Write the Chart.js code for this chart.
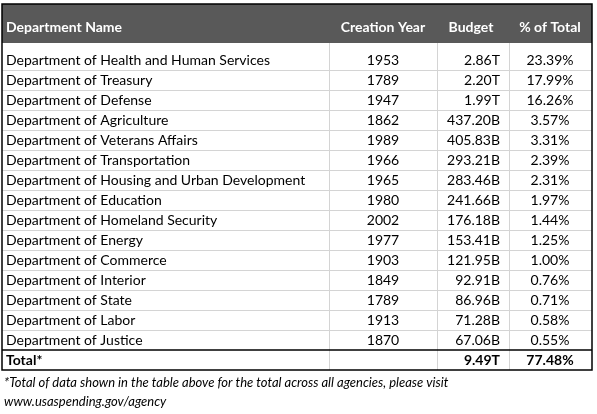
<!DOCTYPE html>
<html>
<head>
<meta charset="utf-8">
<script src="https://cdn.jsdelivr.net/npm/chart.js@4"></script>
<style>
  html, body { margin: 0; padding: 0; background: #fff; }
  #wrap { width: 597px; height: 414px; }
</style>
</head>
<body>
<div id="wrap"><canvas id="tbl"></canvas></div>
<script>
const headers = ['Department Name', 'Creation Year', 'Budget', '% of Total'];
const departments = [
    'Department of Health and Human Services', 'Department of Treasury', 'Department of Defense',
    'Department of Agriculture', 'Department of Veterans Affairs', 'Department of Transportation',
    'Department of Housing and Urban Development', 'Department of Education', 'Department of Homeland Security',
    'Department of Energy', 'Department of Commerce', 'Department of Interior',
    'Department of State', 'Department of Labor', 'Department of Justice'
];
const years = [1953, 1789, 1947, 1862, 1989, 1966, 1965, 1980, 2002, 1977, 1903, 1849, 1789, 1913, 1870];
const budgets = ['2.86T', '2.20T', '1.99T', '437.20B', '405.83B', '293.21B', '283.46B', '241.66B',
    '176.18B', '153.41B', '121.95B', '92.91B', '86.96B', '71.28B', '67.06B'];
const percents = ['23.39%', '17.99%', '16.26%', '3.57%', '3.31%', '2.39%', '2.31%', '1.97%',
    '1.44%', '1.25%', '1.00%', '0.76%', '0.71%', '0.58%', '0.55%'];
const totalRow = ['Total*', '', '9.49T', '77.48%'];
const footnote = [
    '*Total of data shown in the table above for the total across all agencies, please visit',
    'www.usaspending.gov/agency'
];

const FONT = 'Lato, "Open Sans", sans-serif';

// draws the table through the chart's x/y scales (pixel-unit scales)
const tablePlugin = {
    id: 'tablePlugin',
    afterDraw(chart) {
        const ctx = chart.ctx;
        const x = v => chart.scales.x.getPixelForValue(v);
        const y = v => chart.scales.y.getPixelForValue(v);
        const left = 2, right = 592, colLines = [329, 437, 509];
        const rowTop = 50, rowH = 20;
        const totalTop = rowTop + departments.length * rowH;

        ctx.save();
        // header
        ctx.fillStyle = '#595959';
        ctx.fillRect(x(left), y(4), x(right) - x(left), y(43) - y(4));

        // grid lines
        ctx.strokeStyle = '#d4d4d4';
        ctx.lineWidth = 1;
        for (let i = 1; i < departments.length; i++) {
            const yy = Math.round(y(rowTop + i * rowH)) + 0.5;
            ctx.beginPath(); ctx.moveTo(x(left), yy); ctx.lineTo(x(right), yy); ctx.stroke();
        }
        colLines.forEach(c => {
            const xx = Math.round(x(c)) + 0.5;
            ctx.beginPath(); ctx.moveTo(xx, y(43)); ctx.lineTo(xx, y(totalTop + rowH)); ctx.stroke();
        });

        // borders
        ctx.strokeStyle = '#000';
        ctx.lineWidth = 1.5;
        ctx.strokeRect(x(left), y(4), x(right) - x(left), y(totalTop + rowH) - y(4));
        ctx.beginPath();
        ctx.moveTo(x(left), y(totalTop)); ctx.lineTo(x(right), y(totalTop));
        ctx.stroke();

        const cell = (txt, col, cy, color, bold) => {
            ctx.fillStyle = color;
            ctx.font = (bold ? 'bold ' : '') + '14px ' + FONT;
            ctx.textBaseline = 'middle';
            if (col === 0) { ctx.textAlign = 'left'; ctx.fillText(txt, x(6), y(cy)); }
            else if (col === 1) { ctx.textAlign = 'center'; ctx.fillText(txt, x(383), y(cy)); }
            else if (col === 2) { ctx.textAlign = 'right'; ctx.fillText(txt, x(500), y(cy)); }
            else { ctx.textAlign = 'center'; ctx.fillText(txt, x(550), y(cy)); }
        };

        // header text
        ctx.fillStyle = '#fff';
        ctx.font = 'bold 14px ' + FONT;
        ctx.textBaseline = 'middle';
        ctx.textAlign = 'left'; ctx.fillText(headers[0], x(6), y(27));
        ctx.textAlign = 'center';
        ctx.fillText(headers[1], x(383), y(27));
        ctx.fillText(headers[2], x(471), y(27));
        ctx.fillText(headers[3], x(550), y(27));

        departments.forEach((d, i) => {
            const cy = rowTop + i * rowH + rowH / 2;
            cell(d, 0, cy, '#000');
            cell(String(years[i]), 1, cy, '#000');
            cell(budgets[i], 2, cy, '#000');
            cell(percents[i], 3, cy, '#000');
        });
        totalRow.forEach((t, c) => cell(t, c, totalTop + rowH / 2, '#000', true));

        ctx.fillStyle = '#000';
        ctx.font = 'italic 13px ' + FONT;
        ctx.textAlign = 'left';
        ctx.fillText(footnote[0], x(4), y(383));
        ctx.fillText(footnote[1], x(4), y(402));
        ctx.restore();
    }
};

new Chart(document.getElementById('tbl'), {
    type: 'scatter',
    data: { datasets: [{ data: [], pointRadius: 0 }] },
    options: {
        responsive: true,
        maintainAspectRatio: false,
        animation: false,
        layout: { padding: 0 },
        plugins: { legend: { display: false }, tooltip: { enabled: false } },
        scales: {
            x: { type: 'linear', min: 0, max: 597, display: false },
            y: { type: 'linear', min: 0, max: 414, reverse: true, display: false }
        }
    },
    plugins: [tablePlugin]
});
</script>
</body>
</html>
